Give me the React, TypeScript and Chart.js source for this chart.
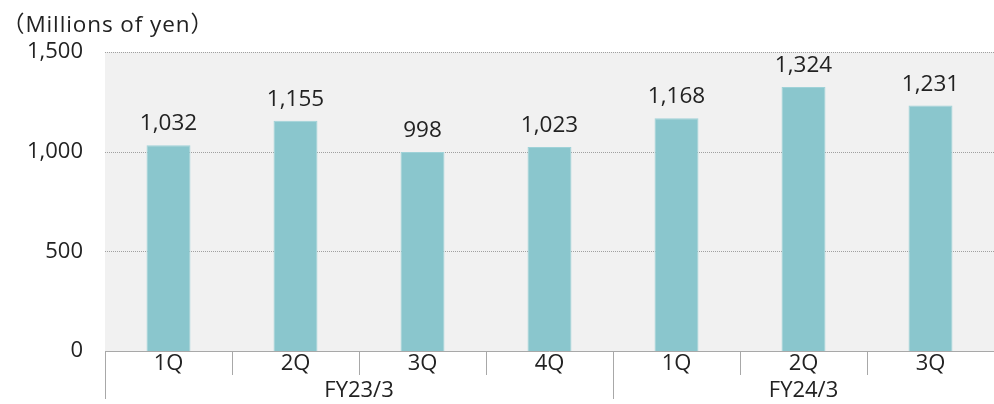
import React, { useEffect, useRef } from "react";
import { Chart, registerables } from "chart.js";

Chart.register(...registerables);

const quarters = ["1Q", "2Q", "3Q", "4Q", "1Q", "2Q", "3Q"];
const fiscalYears = ["FY23/3", "FY24/3"];
const fiscalYearSpans = [4, 3];
const values = [1032, 1155, 998, 1023, 1168, 1324, 1231];
const yTicks = [0, 500, 1000, 1500];
const unitLabel = "（Millions of yen）";

const FONT = "'Open Sans', 'Noto Sans CJK JP', sans-serif";
const TEXT = "#222222";
const LINE = "#a8a8a8";

const customPlugin = {
  id: "custom",
  beforeDatasetsDraw(chart: any) {
    const { ctx, chartArea, scales } = chart;
    ctx.save();
    ctx.fillStyle = "#f1f1f1";
    ctx.fillRect(chartArea.left, chartArea.top, chartArea.right - chartArea.left, chartArea.bottom - chartArea.top);
    // dotted grid lines
    ctx.strokeStyle = "#a0a0a0";
    ctx.lineWidth = 1;
    ctx.setLineDash([1, 1]);
    yTicks.forEach((v) => {
      if (v === 0) return;
      const py = Math.round(scales.y.getPixelForValue(v)) + 0.5;
      ctx.beginPath();
      ctx.moveTo(chartArea.left, py);
      ctx.lineTo(chartArea.right, py);
      ctx.stroke();
    });
    ctx.restore();
  },
  afterDraw(chart: any) {
    const { ctx, chartArea, scales } = chart;
    const x = scales.x;
    const half = (x.getPixelForValue(1) - x.getPixelForValue(0)) / 2;
    ctx.save();
    // unit label
    ctx.font = `22.5px ${FONT}`;
    ctx.fillStyle = TEXT;
    ctx.textAlign = "left";
    ctx.textBaseline = "alphabetic";
    try {
      (ctx as any).letterSpacing = "0.9px";
    } catch (e) {}
    ctx.fillText(unitLabel, 2, 32);
    try {
      (ctx as any).letterSpacing = "0px";
    } catch (e) {}

    // baseline
    ctx.strokeStyle = LINE;
    ctx.lineWidth = 1;
    ctx.beginPath();
    ctx.moveTo(chartArea.left, chartArea.bottom + 0.5);
    ctx.lineTo(chartArea.right, chartArea.bottom + 0.5);
    ctx.stroke();

    // separators
    const groupEnds = new Set<number>();
    let acc = 0;
    fiscalYearSpans.forEach((s) => {
      acc += s;
      groupEnds.add(acc);
    });
    for (let i = 0; i < quarters.length; i++) {
      const px = Math.round(x.getPixelForValue(i) - half) + 0.5;
      const long = i === 0 || groupEnds.has(i);
      ctx.beginPath();
      ctx.moveTo(px, chartArea.bottom);
      ctx.lineTo(px, long ? chartArea.bottom + 48 : chartArea.bottom + 24);
      ctx.stroke();
    }

    ctx.font = `22px ${FONT}`;
    ctx.fillStyle = TEXT;
    ctx.textAlign = "center";
    ctx.textBaseline = "alphabetic";
    // quarter labels
    quarters.forEach((q, i) => {
      ctx.fillText(q, x.getPixelForValue(i), chartArea.bottom + 19);
    });
    // fiscal year labels
    let start = 0;
    fiscalYears.forEach((fy, gi) => {
      const end = start + fiscalYearSpans[gi] - 1;
      const left = x.getPixelForValue(start) - half;
      const right = Math.min(x.getPixelForValue(end) + half, chartArea.right);
      ctx.fillText(fy, (left + right) / 2, chartArea.bottom + 46);
      start = end + 1;
    });

    // data labels
    ctx.font = `22.5px ${FONT}`;
    const meta = chart.getDatasetMeta(0);
    meta.data.forEach((bar: any, i: number) => {
      ctx.fillText(values[i].toLocaleString("en-US"), bar.x, bar.y - 15);
    });
    ctx.restore();
  },
};

export default function App() {
  const ref = useRef<HTMLCanvasElement>(null);
  useEffect(() => {
    document.body.style.margin = "0";
    const chart = new Chart(ref.current!, {
      type: "bar",
      data: {
        labels: quarters,
        datasets: [
          {
            data: values,
            backgroundColor: "#8ac6cd",
            borderColor: "#9fd2d8",
            borderWidth: 1,
            barPercentage: 0.346,
            categoryPercentage: 1,
          },
        ],
      },
      options: {
        animation: false,
        responsive: false,
        maintainAspectRatio: false,
        layout: { padding: { top: 52, right: 0, left: 0, bottom: 0 } },
        plugins: { legend: { display: false }, tooltip: { enabled: false } },
        scales: {
          x: {
            ticks: { display: false },
            grid: { display: false, drawTicks: false },
            border: { display: false },
            afterFit(scale: any) {
              scale.height = 53;
            },
          },
          y: {
            min: 0,
            max: 1500,
            afterBuildTicks(scale: any) {
              scale.ticks = yTicks.map((v) => ({ value: v }));
            },
            ticks: {
              font: { family: FONT, size: 22 },
              color: TEXT,
              padding: 22,
              callback: (v: any) => Number(v).toLocaleString("en-US"),
            },
            grid: { display: false, drawTicks: false },
            border: { display: false },
            afterFit(scale: any) {
              scale.width = 105;
            },
          },
        },
      },
      plugins: [customPlugin],
    });
    return () => chart.destroy();
  }, []);
  return (
    <div style={{ position: "absolute", left: 0, top: 0, width: 994, height: 404 }}>
      <canvas ref={ref} width={994} height={404} style={{ display: "block" }} />
    </div>
  );
}
